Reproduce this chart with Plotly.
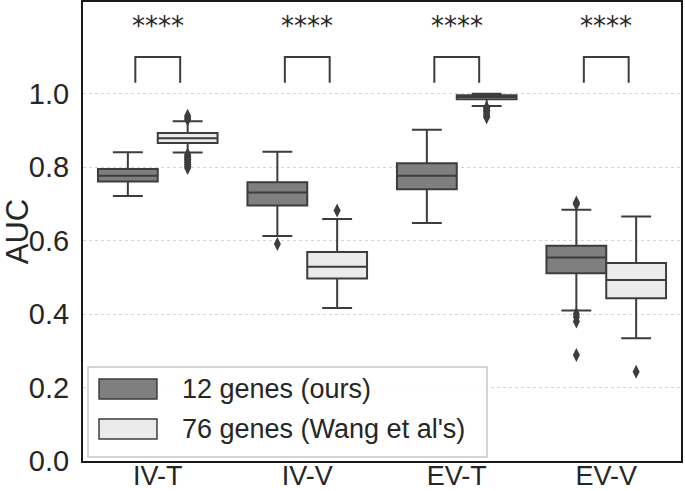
import plotly.graph_objects as go

categories = ["IV-T", "IV-V", "EV-T", "EV-V"]
series_names = ["12 genes (ours)", "76 genes (Wang et al's)"]

ours_lowerfence = [0.722, 0.613, 0.648, 0.410]
ours_q1 = [0.761, 0.696, 0.740, 0.511]
ours_median = [0.777, 0.731, 0.777, 0.554]
ours_q3 = [0.795, 0.759, 0.811, 0.586]
ours_upperfence = [0.841, 0.842, 0.902, 0.684]
ours_outliers = [[], [0.591], [], [0.704, 0.699, 0.400, 0.392, 0.380, 0.289]]

wang_lowerfence = [0.840, 0.417, 0.967, 0.334]
wang_q1 = [0.866, 0.497, 0.985, 0.443]
wang_median = [0.879, 0.529, 0.991, 0.493]
wang_q3 = [0.893, 0.569, 0.996, 0.539]
wang_upperfence = [0.925, 0.659, 1.000, 0.666]
wang_outliers = [
    [0.930, 0.935, 0.940, 0.835, 0.830, 0.826, 0.822, 0.818, 0.813, 0.808, 0.803, 0.798],
    [0.682],
    [0.963, 0.959, 0.955, 0.951, 0.946, 0.941, 0.936],
    [0.243],
]

significance = ["****", "****", "****", "****"]
y_ticks = [0.0, 0.2, 0.4, 0.6, 0.8, 1.0]

DARK = "#7f7f7f"
LIGHT = "#ebebeb"
EDGE = "#3d3d3d"
FONT = "Liberation Sans, Arial, sans-serif"

idx = list(range(len(categories)))
offset = 0.2
box_w = 0.4

fig = go.Figure()

for name, fill, sign, lf, q1, med, q3, uf, outl in [
    (series_names[0], DARK, -1, ours_lowerfence, ours_q1, ours_median, ours_q3, ours_upperfence, ours_outliers),
    (series_names[1], LIGHT, 1, wang_lowerfence, wang_q1, wang_median, wang_q3, wang_upperfence, wang_outliers),
]:
    xs = [i + sign * offset for i in idx]
    fig.add_trace(go.Box(
        x=xs, q1=q1, median=med, q3=q3, lowerfence=lf, upperfence=uf,
        width=box_w, whiskerwidth=0.5, fillcolor=fill,
        line=dict(color=EDGE, width=2), name=name, showlegend=False,
        boxpoints=False, hoverinfo="skip",
    ))
    ox, oy = [], []
    for i, vals in zip(idx, outl):
        for v in vals:
            ox.append(i + sign * offset)
            oy.append(v)
    fig.add_trace(go.Scatter(
        x=ox, y=oy, mode="markers", showlegend=False,
        marker=dict(symbol="diamond-tall", size=10, color=EDGE, line=dict(width=0)),
        hoverinfo="skip",
    ))

# significance brackets and stars
br_low, br_high, star_y, br_half = 1.03, 1.10, 1.185, 0.15
for i, s in zip(idx, significance):
    fig.add_shape(type="path",
                  path=f"M {i-br_half},{br_low} L {i-br_half},{br_high} L {i+br_half},{br_high} L {i+br_half},{br_low}",
                  xref="x", yref="y", line=dict(color=EDGE, width=2))
    fig.add_annotation(x=i, y=star_y, text=s, showarrow=False, xref="x", yref="y",
                       font=dict(family="DejaVu Sans", size=26, color="#262626"))

# legend (drawn manually to mimic matplotlib patches)
fig.add_shape(type="rect", xref="paper", yref="paper", x0=0.0084, x1=0.6756, y0=0.0087, y1=0.2048,
              line=dict(color="#c8c8c8", width=1.5), fillcolor="rgba(255,255,255,0.85)", layer="above")
legend_rows = [(0.1351, 0.1786, DARK, series_names[0], 0.1569),
               (0.0479, 0.0915, LIGHT, series_names[1], 0.0697)]
for y0, y1, col, txt, ty in legend_rows:
    fig.add_shape(type="rect", xref="paper", yref="paper", x0=0.0268, x1=0.1237, y0=y0, y1=y1,
                  fillcolor=col, line=dict(color=EDGE, width=1.5), layer="above")
    fig.add_annotation(xref="paper", yref="paper", x=0.1622, y=ty, text=txt, showarrow=False,
                       xanchor="left", yanchor="middle", font=dict(family=FONT, size=27, color="#262626"))

fig.update_layout(
    width=685, height=491,
    margin=dict(l=83, r=4, t=2, b=30),
    paper_bgcolor="white", plot_bgcolor="white",
    font=dict(family=FONT, size=29, color="#262626"),
    boxmode="overlay",
)
fig.update_xaxes(
    range=[-0.5, 3.5], tickvals=idx, ticktext=categories, showgrid=False, zeroline=False,
    showline=True, mirror=True, linecolor="#1a1a1a", linewidth=2, ticks="", automargin=False,
    tickfont=dict(size=27), ticklabelstandoff=-10,
)
fig.update_yaxes(
    range=[0, 1.25], tickvals=y_ticks, tickformat=".1f", showgrid=True, gridcolor="#d5d5d5",
    griddash="dot", gridwidth=1, zeroline=False, showline=True, mirror=True, linecolor="#1a1a1a",
    linewidth=2, ticks="", automargin=False, ticklabelstandoff=6, tickfont=dict(size=29),
    title=dict(text="AUC", font=dict(size=31), standoff=8),
)

fig.write_html("out.html", config={"displayModeBar": False},
               post_script="document.body.style.margin='0';")
